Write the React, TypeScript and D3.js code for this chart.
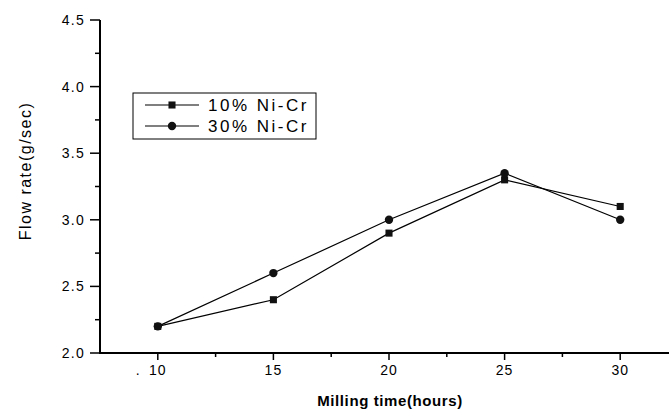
import React, { useEffect, useRef } from 'react'
import * as d3 from 'd3'

const millingHours = [10, 15, 20, 25, 30]
const flow10 = [2.2, 2.4, 2.9, 3.3, 3.1]
const flow30 = [2.2, 2.6, 3.0, 3.35, 3.0]
const seriesNames = ['10% Ni-Cr', '30% Ni-Cr']
const xTicks = [10, 15, 20, 25, 30]
const xMinorTicks = [12.5, 17.5, 22.5, 27.5, 32.5]
const yTicks = [2.0, 2.5, 3.0, 3.5, 4.0, 4.5]
const yMinorTicks = [2.25, 2.75, 3.25, 3.75, 4.25]

const W = 669
const H = 414
const FONT = '"Liberation Sans", Arial, sans-serif'

export default function App() {
  const svgRef = useRef<SVGSVGElement>(null)

  useEffect(() => {
    if (!svgRef.current) return
    const svg = d3.select(svgRef.current)
    svg.selectAll('*').remove()

    const x = d3.scaleLinear().domain([7.5, 32.5]).range([100, 678])
    const y = d3.scaleLinear().domain([2.0, 4.5]).range([353, 20])

    const g = svg.append('g')

    // x axis
    const xAxis = g.append('g').attr('transform', `translate(0,${y(2.0)})`)
    xAxis.append('line')
      .attr('x1', x(7.5)).attr('x2', W + 5)
      .attr('stroke', '#000').attr('stroke-width', 2)
    xAxis.selectAll('line.major')
      .data(xTicks).enter().append('line')
      .attr('x1', d => x(d)).attr('x2', d => x(d))
      .attr('y1', 0).attr('y2', 7)
      .attr('stroke', '#000').attr('stroke-width', 1.5)
    xAxis.selectAll('line.minor')
      .data(xMinorTicks).enter().append('line')
      .attr('x1', d => x(d)).attr('x2', d => x(d))
      .attr('y1', 0).attr('y2', 4)
      .attr('stroke', '#000').attr('stroke-width', 1.5)
    xAxis.selectAll('text')
      .data(xTicks).enter().append('text')
      .attr('x', d => x(d)).attr('y', 22)
      .attr('text-anchor', 'middle')
      .style('font-family', FONT).style('font-size', '14px')
      .style('letter-spacing', '1px')
      .text(d => d)
    xAxis.append('text')
      .attr('x', x(10) - 22).attr('y', 22)
      .style('font-family', FONT).style('font-size', '14px')
      .text('.')

    // y axis
    const yAxis = g.append('g').attr('transform', `translate(${x(7.5)},0)`)
    yAxis.append('line')
      .attr('y1', y(4.5)).attr('y2', y(2.0) + 1)
      .attr('stroke', '#000').attr('stroke-width', 2)
    yAxis.selectAll('line.major')
      .data(yTicks).enter().append('line')
      .attr('x1', -10).attr('x2', 0)
      .attr('y1', d => y(d)).attr('y2', d => y(d))
      .attr('stroke', '#000').attr('stroke-width', 1.5)
    yAxis.selectAll('line.minor')
      .data(yMinorTicks).enter().append('line')
      .attr('x1', -5).attr('x2', 0)
      .attr('y1', d => y(d)).attr('y2', d => y(d))
      .attr('stroke', '#000').attr('stroke-width', 1.5)
    yAxis.selectAll('text')
      .data(yTicks).enter().append('text')
      .attr('x', -15).attr('y', d => y(d) + 5)
      .attr('text-anchor', 'end')
      .style('font-family', FONT).style('font-size', '14px')
      .style('letter-spacing', '1.3px')
      .text(d => d.toFixed(1))

    // axis titles
    g.append('text')
      .attr('x', 390).attr('y', 406)
      .attr('text-anchor', 'middle')
      .style('font-family', FONT).style('font-size', '15px')
      .style('font-weight', 'bold').style('letter-spacing', '0.6px')
      .text('Milling time(hours)')
    g.append('text')
      .attr('transform', `translate(31,171) rotate(-90)`)
      .attr('text-anchor', 'middle')
      .style('font-family', FONT).style('font-size', '16px')
      .style('letter-spacing', '1.5px')
      .text('Flow rate(g/sec)')

    // lines
    const line = d3.line<[number, number]>()
      .x(d => x(d[0])).y(d => y(d[1]))
    const data10 = millingHours.map((h, i) => [h, flow10[i]] as [number, number])
    const data30 = millingHours.map((h, i) => [h, flow30[i]] as [number, number])

    g.append('path').attr('d', line(data10)!)
      .attr('fill', 'none').attr('stroke', '#000').attr('stroke-width', 1.2)
    g.append('path').attr('d', line(data30)!)
      .attr('fill', 'none').attr('stroke', '#000').attr('stroke-width', 1.2)

    const square = d3.symbol().type(d3.symbolSquare).size(50)
    const circle = d3.symbol().type(d3.symbolCircle).size(55)

    g.selectAll('path.sq')
      .data(data10).enter().append('path')
      .attr('transform', d => `translate(${x(d[0])},${y(d[1])})`)
      .attr('d', square()!)
      .attr('fill', '#111')
    g.selectAll('path.ci')
      .data(data30).enter().append('path')
      .attr('transform', d => `translate(${x(d[0])},${y(d[1])})`)
      .attr('d', circle()!)
      .attr('fill', '#111')

    // legend
    const legend = g.append('g')
    legend.append('rect')
      .attr('x', 133).attr('y', 93).attr('width', 183).attr('height', 46)
      .attr('fill', '#fff').attr('stroke', '#000').attr('stroke-width', 1)
    const rows = [105, 126]
    seriesNames.forEach((name, i) => {
      const ry = rows[i]
      legend.append('line')
        .attr('x1', 145).attr('x2', 199).attr('y1', ry).attr('y2', ry)
        .attr('stroke', '#000').attr('stroke-width', 1.2)
      legend.append('path')
        .attr('transform', `translate(172,${ry})`)
        .attr('d', (i === 0 ? square : circle)()!)
        .attr('fill', '#111')
      legend.append('text')
        .attr('x', 208).attr('y', ry + 6)
        .style('font-family', FONT).style('font-size', '17px')
        .style('letter-spacing', '2.5px')
        .text(name)
    })
  }, [])

  return (
    <svg
      ref={svgRef}
      width={W}
      height={H}
      style={{ position: 'absolute', left: 0, top: 0, background: '#fff', display: 'block' }}
    />
  )
}
